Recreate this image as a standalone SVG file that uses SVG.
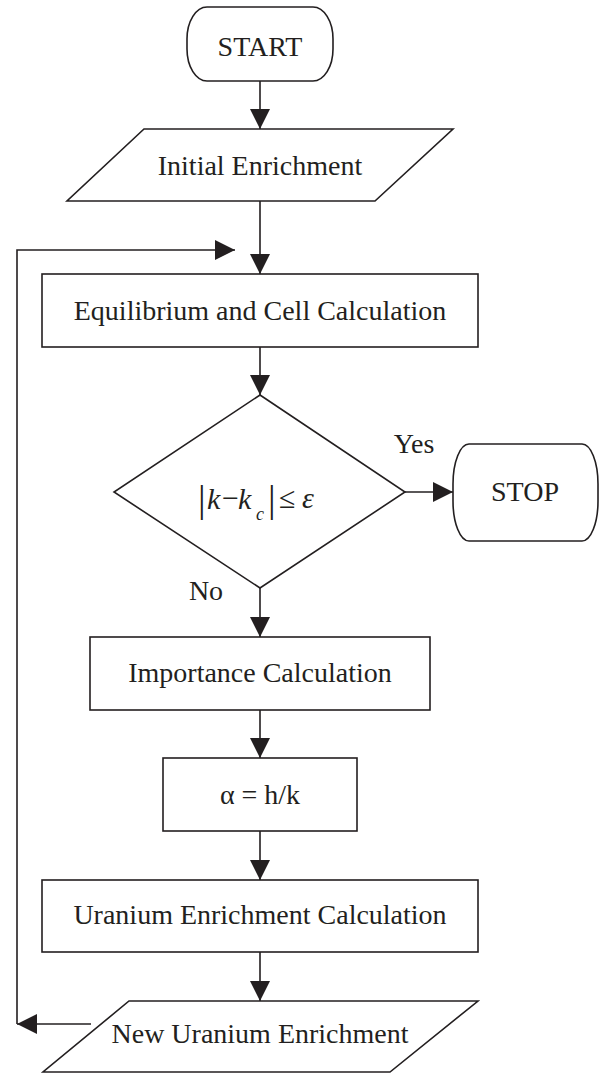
<svg xmlns="http://www.w3.org/2000/svg" width="599" height="1073" viewBox="0 0 599 1073">
<style>
.s{fill:#fff;stroke:#231f20;stroke-width:1.6}
.c{fill:none;stroke:#231f20;stroke-width:1.6}
.t{font-family:"Liberation Serif","Times New Roman",serif;font-size:28px;fill:#231f20;text-anchor:middle}
.m{font-family:"Liberation Serif","Times New Roman",serif;fill:#231f20;font-style:italic}
.n{font-style:normal}
</style>
<defs>
<marker id="ah" viewBox="0 0 20 20" refX="20" refY="10" markerWidth="20" markerHeight="20" markerUnits="userSpaceOnUse" orient="auto">
<path d="M0,0 L20,10 L0,20 Z" fill="#231f20"/>
</marker>
</defs>
<rect width="599" height="1073" fill="#fff"/>
<g id="connectors">
<line class="c" x1="260" y1="81" x2="260" y2="129" marker-end="url(#ah)"/>
<line class="c" x1="260" y1="201" x2="260" y2="274" marker-end="url(#ah)"/>
<line class="c" x1="260" y1="347" x2="260" y2="395" marker-end="url(#ah)"/>
<line class="c" x1="405" y1="492" x2="453" y2="492" marker-end="url(#ah)"/>
<line class="c" x1="260" y1="588" x2="260" y2="637" marker-end="url(#ah)"/>
<line class="c" x1="260" y1="710" x2="260" y2="758" marker-end="url(#ah)"/>
<line class="c" x1="260" y1="831" x2="260" y2="880" marker-end="url(#ah)"/>
<line class="c" x1="260" y1="952" x2="260" y2="1001" marker-end="url(#ah)"/>
<line class="c" x1="91" y1="1024" x2="17" y2="1024" marker-end="url(#ah)"/>
<polyline class="c" points="17,1024 17,250 235,250" marker-end="url(#ah)"/>
</g>
<g id="start">
<rect class="s" x="187" y="7" width="146" height="74" rx="20" ry="32"/>
<text class="t" x="260" y="56">START</text>
</g>
<g id="initial">
<polygon class="s" points="144,129 453,129 375,201 67,201"/>
<text class="t" x="260" y="175">Initial Enrichment</text>
</g>
<g id="equilibrium">
<rect class="s" x="42" y="274" width="436" height="73"/>
<text class="t" x="260" y="320">Equilibrium and Cell Calculation</text>
</g>
<g id="decision">
<polygon class="s" points="260,395 405,492 260,588 114,492"/>
<text class="m" font-size="30"><tspan class="n" x="198" y="512" font-size="38">|</tspan><tspan x="207" y="509">k</tspan><tspan class="n" x="222" y="508">−</tspan><tspan x="238" y="509">k</tspan><tspan x="256" y="520" font-size="18">c</tspan><tspan class="n" x="268" y="512" font-size="38">|</tspan><tspan class="n" x="279" y="508">≤</tspan><tspan x="302" y="508">ε</tspan></text>
</g>
<g id="yes-label"><text class="t" x="414" y="453">Yes</text></g>
<g id="no-label"><text class="t" x="206" y="600">No</text></g>
<g id="stop">
<rect class="s" x="453" y="444" width="145" height="97" rx="16" ry="40"/>
<text class="t" x="525" y="501">STOP</text>
</g>
<g id="importance">
<rect class="s" x="90" y="637" width="340" height="73"/>
<text class="t" x="260" y="682">Importance Calculation</text>
</g>
<g id="alpha">
<rect class="s" x="163" y="758" width="194" height="73"/>
<text class="t" x="260" y="804">α = h/k</text>
</g>
<g id="uranium-calc">
<rect class="s" x="42" y="880" width="436" height="72"/>
<text class="t" x="260" y="924">Uranium Enrichment Calculation</text>
</g>
<g id="new-uranium">
<polygon class="s" points="129,1001 478,1001 390,1072 43,1072"/>
<text class="t" x="260" y="1043">New Uranium Enrichment</text>
</g>
</svg>
